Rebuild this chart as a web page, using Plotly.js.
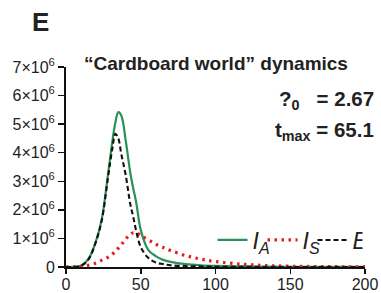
<!DOCTYPE html>
<html>
<head>
<meta charset="utf-8">
<script src="https://cdn.plot.ly/plotly-3.0.1.min.js"></script>
<style>html,body{margin:0;padding:0;background:#fff;}#chart{width:381px;height:293px;}</style>
</head>
<body>
<div id="chart"></div>
<script>
// time (days)
var tDays = [0,5,10,15,20,24,28,31,33,35,37,40,43,45,47,50,55,60,65,70,80,90,100,120,140,160,180,200];
// asymptomatic infected I_A (millions)
var iaM = [0,0.005,0.04,0.28,0.9,1.7,3.2,4.4,5.05,5.42,5.3,4.4,3.3,2.75,2.25,1.3,0.6,0.38,0.25,0.18,0.1,0.06,0.04,0.02,0.01,0.005,0.003,0.002];
// symptomatic infected I_S (millions)
var isM = [0,0.005,0.02,0.06,0.14,0.24,0.34,0.45,0.55,0.66,0.78,0.98,1.15,1.2,1.2,1.1,0.95,0.8,0.68,0.58,0.4,0.28,0.19,0.09,0.04,0.02,0.01,0.005];
// exposed E (millions)
var eM = [0,0.005,0.04,0.27,0.88,1.65,3.1,4.15,4.66,4.5,3.95,3.2,2.2,1.75,1.25,0.7,0.32,0.16,0.1,0.06,0.03,0.02,0.01,0.005,0,0,0,0];
var yTickVals = [0,1,2,3,4,5,6,7];
var yTickText = ['0','1×10<sup>6</sup>','2×10<sup>6</sup>','3×10<sup>6</sup>','4×10<sup>6</sup>','5×10<sup>6</sup>','6×10<sup>6</sup>','7×10<sup>6</sup>'];
var xTickVals = [0,50,100,150,200];
var seriesNames = ['<i>I</i><sub><i>A</i></sub>','<i>I</i><sub><i>S</i></sub>','<i>E</i>'];
var M = 1e6;
function scale(a){return a.map(function(v){return v*M;});}

var traces = [
  {x:tDays, y:scale(iaM), name:seriesNames[0], mode:'lines', line:{color:'#2a9158', width:2.2, shape:'spline'}},
  {x:tDays, y:scale(isM), name:seriesNames[1], mode:'lines', line:{color:'#e0201c', width:3.2, dash:'2.5px,4.5px', shape:'spline'}},
  {x:tDays, y:scale(eM), name:seriesNames[2], mode:'lines', line:{color:'#111111', width:2.1, dash:'5px,3px', shape:'spline'}}
];
var layout = {
  width:381, height:293,
  margin:{l:66, r:16, t:67, b:26, autoexpand:false},
  paper_bgcolor:'#fff', plot_bgcolor:'#fff',
  font:{family:'Liberation Sans, Arial, sans-serif', color:'#222'},
  showlegend:true,
  legend:{orientation:'h', x:0.49, xanchor:'left', y:0.135, yanchor:'middle', font:{size:23, color:'#222'}, itemwidth:30, entrywidth:5, entrywidthmode:'pixels', bgcolor:'rgba(0,0,0,0)', traceorder:'normal'},
  xaxis:{range:[0,200], tickvals:xTickVals, ticktext:xTickVals.map(String), showgrid:false, zeroline:false, showline:true, linecolor:'#111', linewidth:2, ticks:'outside', ticklen:5, tickwidth:1.5, tickcolor:'#111', tickfont:{size:16, color:'#222'}, ticklabelstandoff:-3, fixedrange:true},
  yaxis:{range:[0,7*M], tickvals:yTickVals.map(function(v){return v*M;}), ticktext:yTickText, showgrid:false, zeroline:false, showline:true, linecolor:'#111', linewidth:2, ticks:'outside', ticklen:6, tickwidth:1.5, tickcolor:'#111', tickfont:{size:16, color:'#222'}, fixedrange:true},
  annotations:[
    {xref:'paper', yref:'paper', x:-0.084, y:1.225, text:'<b>E</b>', showarrow:false, font:{size:26, color:'#222'}, xanchor:'center', yanchor:'middle'},
    {xref:'paper', yref:'paper', x:0.502, y:1.02, text:'<b>“Cardboard world” dynamics</b>', showarrow:false, font:{size:19, color:'#222'}, xanchor:'center', yanchor:'middle'},
    {xref:'paper', yref:'paper', x:1.037, y:0.835, text:'<b>?<sub>0</sub>   = 2.67</b>', showarrow:false, font:{size:20.5, color:'#222'}, xanchor:'right', yanchor:'middle'},
    {xref:'paper', yref:'paper', x:1.037, y:0.68, text:'<b>t<sub>max</sub> = 65.1</b>', showarrow:false, font:{size:20.5, color:'#222'}, xanchor:'right', yanchor:'middle'}
  ]
};
Plotly.newPlot('chart', traces, layout, {displayModeBar:false, staticPlot:true});
</script>
</body>
</html>
